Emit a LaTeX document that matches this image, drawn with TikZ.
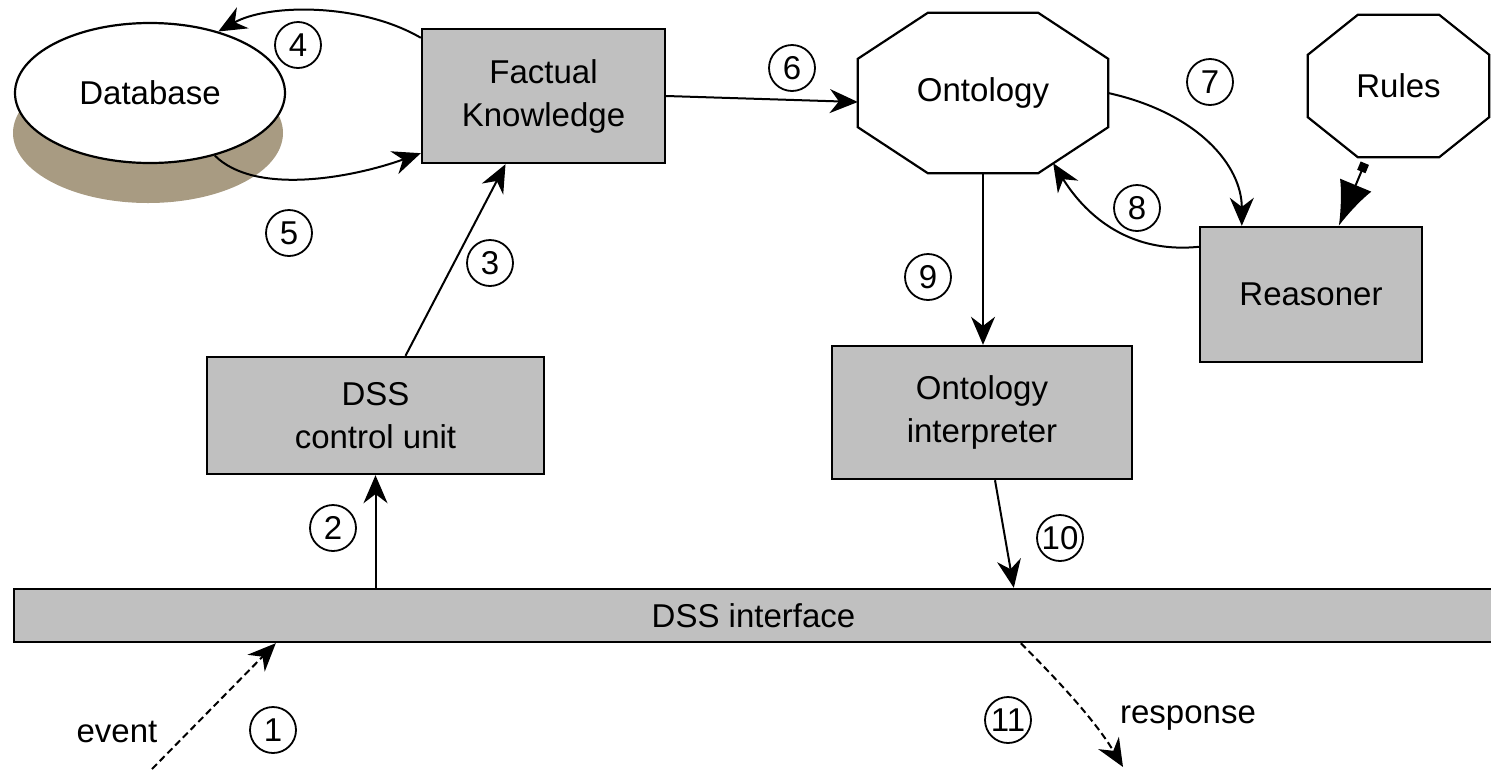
\documentclass[tikz,border=0pt]{standalone}
\usepackage{fontspec}
\setmainfont{Liberation Sans}
\usetikzlibrary{shapes.geometric,arrows.meta,calc}
\definecolor{boxgray}{HTML}{C0C0C0}
\definecolor{dbshade}{HTML}{A89B82}

% octagon drawn around a (borderless) node: #1 node, #2 corner cut in x, #3 corner cut in y
\newcommand\drawocta[3]{%
  \draw[octo] ($(#1.north west)+(#2,0)$) -- ($(#1.north east)+(-#2,0)$)
    -- ($(#1.north east)+(0,#3)$) -- ($(#1.south east)+(0,-#3)$)
    -- ($(#1.south east)+(-#2,0)$) -- ($(#1.south west)+(#2,0)$)
    -- ($(#1.south west)+(0,-#3)$) -- ($(#1.north west)+(0,#3)$) -- cycle;}

\begin{document}
\begin{tikzpicture}[x=1pt,y=-1pt,
  every node/.style={font=\fontsize{33}{43}\selectfont},
  block/.style={draw, line width=2.4pt, fill=boxgray, inner sep=0pt, align=center},
  conn/.style={line width=2pt, -{Stealth[length=28pt,width=24pt]}},
  flow/.style={conn, dash pattern=on 7pt off 4pt},
  num/.style={circle, draw, line width=1.8pt, minimum size=46pt, inner sep=0pt,
              font=\fontsize{33}{33}\selectfont},
  octo/.style={draw, line width=2.2pt},
  plain/.style={inner sep=0pt, align=center}]

\useasboundingbox (0,0) rectangle (1491,769);
\clip (0,0) rectangle (1491,769);

% database drum
\node[ellipse, fill=dbshade, minimum width=270pt, minimum height=140pt] (dbbase) at (148,133) {};
\node[ellipse, draw, line width=2.2pt, fill=white, minimum width=270pt, minimum height=140pt,
      inner sep=0pt] (db) at (150,93) {Database};

% boxes
\node[block, minimum width=243pt, minimum height=134pt] (fk) at (543.5,96) {Factual\\Knowledge};
\node[block, minimum width=337pt, minimum height=117pt] (cu) at (375.5,415.5) {DSS\\control unit};
\node[block, minimum width=300pt, minimum height=133pt] (oi) at (982,412.5) {Ontology\\interpreter};
\node[block, minimum width=222pt, minimum height=135pt] (rs) at (1311,294.5) {Reasoner};
\node[block, minimum width=1479pt, minimum height=53pt] (dssi) at (753.5,615.5) {DSS interface};

% octagons
\node[plain, minimum width=250pt, minimum height=160pt] (onto) at (983,93) {Ontology};
\drawocta{onto}{70}{46}
\node[plain, minimum width=181pt, minimum height=142pt] (rules) at (1398.5,86) {Rules};
\drawocta{rules}{50}{40}

% outside labels
\node (ev) at (117,732) {event};
\node (resp) at (1188,718) {response};
\coordinate (evtail) at (152,769);
\coordinate (resptip) at (1123,767);

% step numbers
\node[num] (n1) at (273,730) {1};
\node[num] (n2) at (333,528) {2};
\node[num] (n3) at (490,263) {3};
\node[num] (n4) at (298,45) {4};
\node[num] (n5) at (289,233) {5};
\node[num] (n6) at (792,68) {6};
\node[num] (n7) at (1210,82) {7};
\node[num] (n8) at (1137,208) {8};
\node[num] (n9) at (928,277) {9};
\node[num] (n10) at (1060,538) {10};
\node[num] (n11) at (1008,720) {11};

% connectors
\draw[flow] (evtail) -- ($(dssi.south west)+(263,0)$);
\draw[conn] (cu.south |- dssi.north) -- (cu.south);
\draw[conn] ($(cu.north)+(30,0)$) -- ($(fk.south)+(-38,0)$);
\draw[conn] ($(fk.north west)+(0,10)$) .. controls +(-60,-35) and +(50,-28) .. (db.42);
\draw[conn] (db.-44) .. controls +(40,40) and +(-70,25) .. ($(fk.south west)+(0,-11)$);
\draw[conn] (fk.east) -- ($(onto.west)+(0,9)$);
\draw[conn] (onto.east) .. controls +(90,20) and +(0,-60) .. ($(rs.north west)+(43,0)$);
\draw[conn] ($(rs.north west)+(0,21)$) .. controls +(-80,8) and +(25,40) .. ($(onto.south east)+(-55,-10)$);
\draw[line width=2pt, {Square[length=9pt,width=9pt]}-{Latex[length=44pt,width=34pt]}]
  ($(rules.south west)+(57,6)$) -- ($(rs.north west)+(140,0)$);
\draw[conn] (onto.south) -- (onto.south |- oi.north);
\draw[conn] ($(oi.south)+(13,0)$) -- ($(dssi.north west)+(1001,0)$);
\draw[flow] ($(dssi.south west)+(1008,0)$) .. controls +(30,30) and +(-30,-50) .. (resptip);

\end{tikzpicture}
\end{document}
